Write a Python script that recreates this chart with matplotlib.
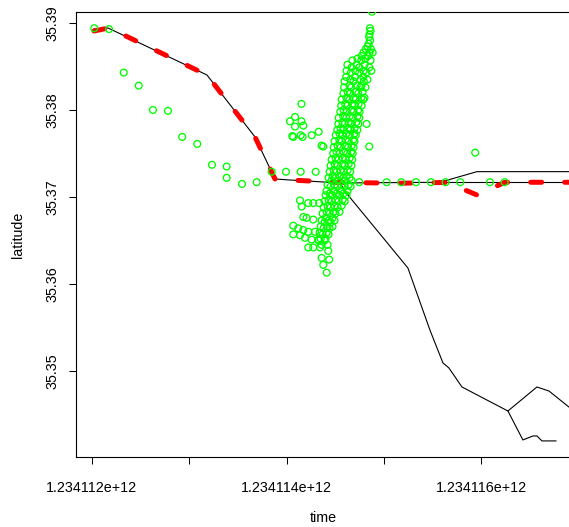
import numpy as np
import matplotlib
matplotlib.use("Agg")
import matplotlib.pyplot as plt

plt.rcParams['font.family'] = ['Liberation Sans', 'DejaVu Sans']

# time is epoch seconds = t0 + offset, plotted in milliseconds
t0 = 1234112000

# main track (black)
track_s = [23, 166, 1183, 1676, 1881, 2035, 2548, 3575, 3955, 5423]
track_lat = [35.38931, 35.38943, 35.38402, 35.37690, 35.37207, 35.37195,
             35.37161, 35.37169, 35.37291, 35.37291]
flat_s = [3575, 5423]
flat_lat = [35.37169, 35.37169]
south_s = [2548, 2630, 3246, 3472, 3606, 3667, 3801, 4273, 4571, 4694, 4899, 5218]
south_lat = [35.37161, 35.37023, 35.36184, 35.35471, 35.35092, 35.35035,
             35.34816, 35.34540, 35.34816, 35.34770, 35.34586, 35.34299]
tail_s = [4273, 4427, 4530, 4571, 4622, 4766]
tail_lat = [35.34540, 35.34207, 35.34253, 35.34253, 35.34196, 35.34196]

# filtered track (red dashed)
filt_s = [23, 177, 1183, 1676, 1881, 2035, 2548, 3164, 3647, 3955, 4242, 5423]
filt_lat = [35.38908, 35.38943, 35.38402, 35.37690, 35.37207, 35.37195,
            35.37167, 35.37158, 35.37167, 35.37023, 35.37169, 35.37169]

# raw fixes (green circles)
trail_s = [26, 177, 328, 482, 628, 782, 929, 1083, 1234, 1385, 1385, 1542,
           1693, 1847, 1994, 2145, 2299]
trail_lat = [35.3894, 35.3893, 35.3843, 35.3828, 35.3800, 35.3799, 35.3769,
             35.3761, 35.3737, 35.3735, 35.3722, 35.3715, 35.3717, 35.3729,
             35.3729, 35.3729, 35.3729]

upper_s = [2153, 2087, 2035, 2153, 2087, 2172, 2059, 2069, 2145, 2165, 2258,
           2330, 2360, 2377, 2849, 2822, 3937]
upper_lat = [35.3807, 35.3792, 35.3787, 35.3787, 35.3781, 35.3782, 35.3770,
             35.3769, 35.3771, 35.3769, 35.3771, 35.3775, 35.3759, 35.3758,
             35.3758, 35.3784, 35.3751]

road_s = [2746, 3028, 3178, 3329, 3482, 3633, 3784, 4088, 4239]
road_lat = [35.3717] * len(road_s)

lower_s = [2138, 2155, 2223, 2274, 2336, 2172, 2206, 2274, 2069, 2120, 2172,
           2223, 2292, 2069, 2138, 2189, 2258, 2326, 2223, 2274, 2343, 2428,
           2360, 2438, 2377, 2412]
lower_lat = [35.3696, 35.3689, 35.3693, 35.3693, 35.3693, 35.3677, 35.3676,
             35.3674, 35.3667, 35.3664, 35.3662, 35.3660, 35.3660, 35.3657,
             35.3656, 35.3653, 35.3651, 35.3651, 35.3642, 35.3642, 35.3642,
             35.3638, 35.3630, 35.3628, 35.3622, 35.3613]

# dense column of fixes: (latitude, time offsets in that band)
column = [
    (35.3913, [2877]),
    (35.3894, [2856]), (35.3891, [2863]), (35.3887, [2852]), (35.3884, [2848]),
    (35.3880, [2858]), (35.3876, [2843]), (35.3873, [2833]),
    (35.3870, [2812, 2866]), (35.3866, [2790, 2851, 2884]),
    (35.3862, [2770, 2838]), (35.3859, [2728, 2810]),
    (35.3857, [2676, 2768, 2862]), (35.3852, [2625, 2718, 2801]),
    (35.3849, [2668, 2748, 2850]), (35.3845, [2616, 2707, 2790, 2870]),
    (35.3843, [2660, 2747, 2820]), (35.3838, [2612, 2703, 2788]),
    (35.3835, [2655, 2760, 2830]), (35.3833, [2596, 2687, 2793]),
    (35.3828, [2646, 2720, 2770]), (35.3826, [2591, 2664, 2758, 2810]),
    (35.3821, [2626, 2708, 2781]), (35.3819, [2584, 2655, 2737]),
    (35.3814, [2615, 2688, 2766, 2800]), (35.3812, [2566, 2646, 2709, 2788]),
    (35.3807, [2603, 2676, 2740]), (35.3805, [2561, 2625, 2697, 2770]),
    (35.3800, [2585, 2665, 2736]), (35.3798, [2552, 2618, 2688, 2750]),
    (35.3793, [2581, 2648, 2728]), (35.3791, [2535, 2614, 2679, 2747]),
    (35.3786, [2574, 2637, 2716]), (35.3784, [2532, 2596, 2666, 2737]),
    (35.3779, [2555, 2634, 2698]), (35.3777, [2521, 2583, 2657, 2726]),
    (35.3773, [2544, 2615, 2696]), (35.3771, [2505, 2575, 2648, 2710]),
    (35.3766, [2542, 2606, 2686]), (35.3764, [2493, 2566, 2637, 2698]),
    (35.3759, [2524, 2603, 2668]), (35.3757, [2484, 2555, 2633, 2688]),
    (35.3752, [2513, 2586, 2664]), (35.3750, [2479, 2544, 2624, 2679]),
    (35.3745, [2503, 2576, 2648]), (35.3743, [2463, 2534, 2606, 2674]),
    (35.3738, [2493, 2572, 2637]), (35.3736, [2452, 2525, 2597, 2666]),
    (35.3731, [2484, 2554, 2627]), (35.3729, [2442, 2514, 2585, 2654]),
    (35.3724, [2472, 2545, 2616]), (35.3722, [2431, 2503, 2583, 2647]),
    (35.3719, [2462, 2534, 2606, 2668]), (35.3714, [2421, 2493, 2565, 2637]),
    (35.3712, [2452, 2524, 2596, 2658]), (35.3707, [2411, 2483, 2554, 2626]),
    (35.3704, [2442, 2513, 2585]), (35.3702, [2401, 2472, 2544, 2616]),
    (35.3697, [2431, 2503, 2576]), (35.3695, [2390, 2463, 2535, 2597]),
    (35.3690, [2421, 2493, 2565]), (35.3688, [2381, 2452, 2524]),
    (35.3683, [2411, 2484, 2544]), (35.3681, [2370, 2443, 2503]),
    (35.3676, [2400, 2472]), (35.3673, [2360, 2431, 2493]),
    (35.3671, [2391, 2452]), (35.3666, [2350, 2421, 2472]),
    (35.3664, [2380, 2442]), (35.3659, [2340, 2411]),
    (35.3657, [2371, 2431]), (35.3652, [2350, 2400]),
    (35.3650, [2330, 2390]), (35.3645, [2360, 2421]),
]

xticks = [1234112e6, 1234113e6, 1234114e6, 1234115e6, 1234116e6]
xticklabels = ['1.234112e+12', '', '1.234114e+12', '', '1.234116e+12']
yticks = [35.35, 35.36, 35.37, 35.38, 35.39]


def ms(offsets):
    return (t0 + np.asarray(offsets, dtype=float)) * 1000.0


col_s = [s for lat, row in column for s in row]
col_lat = [lat for lat, row in column for s in row]
pts_s = trail_s + upper_s + road_s + lower_s + col_s
pts_lat = trail_lat + upper_lat + road_lat + lower_lat + col_lat

fig = plt.figure(figsize=(5.69, 5.27), dpi=100)
ax = fig.add_axes([0.1344, 0.1323, 0.8673, 0.8444])

for s, lat in [(track_s, track_lat), (flat_s, flat_lat),
               (south_s, south_lat), (tail_s, tail_lat)]:
    ax.plot(ms(s), lat, color='black', lw=0.8, zorder=2)

ax.plot(ms(filt_s), filt_lat, color='red', lw=3.6, linestyle=(0, (2.2, 4.6)),
        dash_capstyle='round', zorder=3)

ax.scatter(ms(pts_s), pts_lat, s=24, facecolors='none', edgecolors='#00ff00',
           linewidths=0.95, zorder=4)

ax.set_xlim(1.234111843e12, 1.23411691e12)
ax.set_ylim(35.34008, 35.39123)

ax.set_xticks(xticks)
ax.set_xticklabels(xticklabels)
ax.set_yticks(yticks)
ax.set_yticklabels([f'{v:.2f}' for v in yticks], rotation=90, va='center')
ax.tick_params(direction='out', length=5, width=0.75, labelsize=10.3,
               colors='black')
ax.tick_params(axis='x', pad=12)
ax.tick_params(axis='y', pad=7)

for side in ['left', 'bottom', 'top']:
    ax.spines[side].set_linewidth(0.8)
ax.spines['right'].set_visible(False)

ax.set_xlabel('time', fontsize=10.3)
ax.set_ylabel('latitude', fontsize=10.3)
ax.xaxis.set_label_coords(0.5, -0.1364)
ax.xaxis.label.set_va('center')
ax.yaxis.set_label_coords(-0.1185, 0.5)
ax.yaxis.label.set_va('center')

fig.savefig('out.png', dpi=100)
